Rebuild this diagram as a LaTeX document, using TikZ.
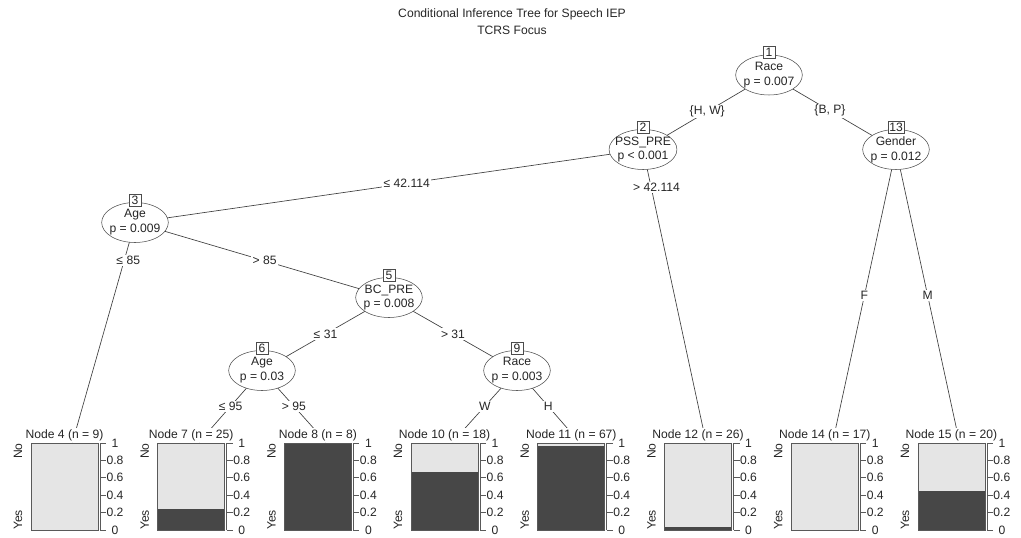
\documentclass[tikz,border=0pt]{standalone}
\usepackage{fontspec}
\setmainfont{Liberation Sans}
\usetikzlibrary{shapes.geometric,backgrounds,positioning}

\begin{document}
\begin{tikzpicture}[x=0.75pt,y=-0.75pt,
    font=\fontsize{9.1}{11.2}\selectfont,text=black!85,
    inner/.style={ellipse,draw=black!70,fill=white,align=center,inner xsep=-3pt,inner ysep=0pt,minimum width=50pt,minimum height=30pt},
    idbox/.style={draw=black!70,fill=white,inner sep=1pt,minimum width=9pt,minimum height=9pt},
    elabel/.style={fill=white,inner sep=1pt},
    tlabel/.style={fill=white,inner sep=1pt},
    link/.style={draw=black!75,line width=0.5pt},
    frame/.style={draw=black!65,line width=0.5pt},
    lightbar/.style={fill=black!10},
    darkbar/.style={fill=black!72}]
    \useasboundingbox (0,0) rectangle (1021,538);

    \node (title) at (512,14) {Conditional Inference Tree for Speech IEP};
    \node (subtitle) [below=0pt of title,inner sep=1pt] {TCRS Focus};

    % inner nodes
    \node[inner] (n1) at (769,75) {Race\\p = 0.007};
    \node[inner] (n2) at (643,149.5) {PSS\_PRE\\p < 0.001};
    \node[inner] (n13) at (896,149.5) {Gender\\p = 0.012};
    \node[inner] (n3) at (135,222.5) {Age\\p = 0.009};
    \node[inner] (n5) at (389,297.5) {BC\_PRE\\p = 0.008};
    \node[inner] (n6) at (262,370.5) {Age\\p = 0.03};
    \node[inner] (n9) at (517,370.5) {Race\\p = 0.003};

    \node[idbox] (b1) at ([yshift=1.5pt]n1.north) {1};
    \node[idbox] (b2) at ([yshift=1.5pt]n2.north) {2};
    \node[idbox] (b13) at ([yshift=1.5pt]n13.north) {13};
    \node[idbox] (b3) at ([yshift=1.5pt]n3.north) {3};
    \node[idbox] (b5) at ([yshift=1.5pt]n5.north) {5};
    \node[idbox] (b6) at ([yshift=1.5pt]n6.north) {6};
    \node[idbox] (b9) at ([yshift=1.5pt]n9.north) {9};

    % terminal nodes
    \foreach \k/\id/\n/\yes in {0/4/9/0,1/7/25/0.24,2/8/8/1,3/10/18/0.6667,
                               4/11/67/0.9701,5/12/26/0.0385,6/14/17/0,7/15/20/0.45}{
        \pgfmathsetmacro{\xl}{31+126.7*\k}
        \coordinate (e\id) at (\xl+41.5,442);
        \fill[lightbar] (\xl,443) rectangle (\xl+67,530);
        \fill[darkbar] (\xl,530) rectangle (\xl+67,530-87*\yes);
        \draw[frame] (\xl,443) rectangle (\xl+67,530);
        \node[tlabel] (t\id) at (\xl+33.5,435) {Node \id{} (n = \n)};
        \node[rotate=90,anchor=east,inner sep=0pt] (no\id) at (\xl-13,443) {No};
        \node[rotate=90,anchor=west,inner sep=0pt] (yes\id) at (\xl-13,530) {Yes};
        \draw[frame] (\xl+69,443) -- (\xl+69,530);
        \foreach \v in {0,0.2,0.4,0.6,0.8,1}{
            \draw[frame] (\xl+69,530-87*\v) -- (\xl+75,530-87*\v);
            \node[inner sep=0pt] at (\xl+84,530-87*\v) {\v};
        }
    }

    \begin{scope}[on background layer]
    \draw[link] (n1.center) -- (n2.center) node[elabel,pos=0.49] {\{H, W\}};
    \draw[link] (n1.center) -- (n13.center) node[elabel,pos=0.48] {\{B, P\}};
    \draw[link] (n2.center) -- (n3.center) node[elabel,pos=0.465] {≤ 42.114};
    \draw[link] (n2.center) -- (e12) node[elabel,pos=0.13,xshift=4pt] {> 42.114};
    \draw[link] (n3.center) -- (e4) node[elabel,pos=0.172,xshift=3pt] {≤ 85};
    \draw[link] (n3.center) -- (n5.center) node[elabel,pos=0.51] {> 85};
    \draw[link] (n5.center) -- (n6.center) node[elabel,pos=0.5] {≤ 31};
    \draw[link] (n5.center) -- (n9.center) node[elabel,pos=0.5] {> 31};
    \draw[link] (n6.center) -- (e7) node[elabel,pos=0.5] {≤ 95};
    \draw[link] (n6.center) -- (e8) node[elabel,pos=0.5] {> 95};
    \draw[link] (n9.center) -- (e10) node[elabel,pos=0.5] {W};
    \draw[link] (n9.center) -- (e11) node[elabel,pos=0.5] {H};
    \draw[link] (n13.center) -- (e14) node[elabel,pos=0.5] {F};
    \draw[link] (n13.center) -- (e15) node[elabel,pos=0.5] {M};
    \end{scope}
\end{tikzpicture}
\end{document}
